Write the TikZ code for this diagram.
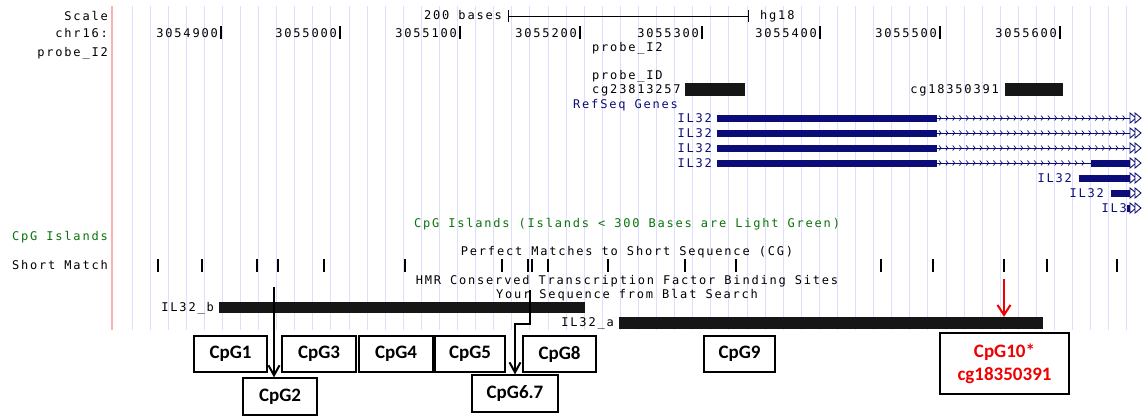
\documentclass[tikz,border=0pt]{standalone}
\usepackage{fontspec}
\usetikzlibrary{arrows.meta}
\newfontfamily\ucsc[LetterSpace=15]{DejaVu Sans Mono}
\newfontfamily\carlito{Carlito}
\newcommand\ucscfont{\ucsc\fontsize{12}{12}\selectfont}
\newcommand\boxfont{\carlito\bfseries\fontsize{19}{23}\selectfont}
\definecolor{guide}{RGB}{222,222,255}
\definecolor{guidered}{RGB}{255,175,175}
\definecolor{navy}{RGB}{12,12,120}
\definecolor{cpggreen}{RGB}{10,115,10}
\definecolor{barblack}{RGB}{22,22,22}
\definecolor{hot}{RGB}{240,0,0}
\tikzset{
  ucsc/.style={font=\ucscfont, inner sep=0pt, text height=8.5pt, text depth=0pt},
  guideline/.style={draw=guide, line width=1pt},
  matchtick/.style={draw=black, line width=#1},
  featbar/.style={fill=barblack, draw=none, inner sep=0pt},
  intron/.style={draw=navy, line width=0.9pt},
  chev/.style={draw=navy, line width=0.7pt},
  strandtip/.style={draw=navy, line width=0.9pt, fill=white},
  cpgbox/.style={draw=black, line width=1.2pt, fill=white, font=\boxfont,
    inner sep=0pt, align=center},
  pointer/.style={draw=black, line width=2pt, -{Straight Barb[length=10pt,width=11pt,line width=2pt]}},
  hotpointer/.style={draw=hot, line width=2pt, -{Straight Barb[length=10pt,width=13pt,line width=2pt]}},
}
\begin{document}
\begin{tikzpicture}[x=1pt,y=-1pt]
\useasboundingbox (0,0) rectangle (1144,416);
\fill[white] (0,0) rectangle (1144,416);

% guide lines of the browser window
\foreach \i in {0,...,55}
  \draw[guideline] ({132+18.09*\i},6) -- ({132+18.09*\i},330);
\draw[draw=guidered, line width=1.2pt] (112,6) -- (112,330);

% left-hand track labels
\node[ucsc, anchor=east] (lscale) at (108,16) {Scale};
\node[ucsc, anchor=east] (lchr) at (108,33) {chr16:};
\node[ucsc, anchor=east] (lprobe) at (108,52) {probe\_I2};
\node[ucsc, anchor=east, text=cpggreen] (lcpg) at (108,236) {CpG Islands};
\node[ucsc, anchor=east] (lshort) at (108,265) {Short Match};

% scale bar
\node[ucsc, anchor=east] (bases) at (502,15) {200 bases};
\coordinate (sb1) at (508,16);
\coordinate (sb2) at (748,16);
\draw[line width=1pt] (sb1) -- (sb2);
\draw[line width=1pt] ([yshift=-6pt]sb1) -- ([yshift=6pt]sb1);
\draw[line width=1pt] ([yshift=-6pt]sb2) -- ([yshift=6pt]sb2);
\node[ucsc, anchor=west] (hg) at (760,15) {hg18};

% chromosome positions
\foreach \pos/\xx in {3054900/221,3055000/340,3055100/460,3055200/580,
                      3055300/702,3055400/820,3055500/940,3055600/1060} {
  \node[ucsc, anchor=east] (p\pos) at (\xx-3,33) {\pos};
  \draw[line width=1.5pt] (\xx,26) -- (\xx,39);
}

% probe track
\node[ucsc, anchor=west] (tprobe) at (592,47) {probe\_I2};
\node[ucsc, anchor=west] (tpid) at (592,75) {probe\_ID};
\node[ucsc, anchor=west] (cga) at (592,89) {cg23813257};
\fill[barblack] (685,83) rectangle (745,96);
\node[ucsc, anchor=east] (cgb) at (999,89) {cg18350391};
\fill[barblack] (1005,83) rectangle (1063,96);

% RefSeq genes
\node[ucsc, anchor=west, text=navy] (refseq) at (573,104) {RefSeq Genes};
\foreach \yy in {118,133,148,163} {
  \node[ucsc, anchor=east, text=navy] at (712,\yy) {IL32};
  \fill[navy] (717,\yy-3.5) rectangle (937,\yy+3.5);
  \draw[intron] (937,\yy) -- (1130,\yy);
}
\foreach \yy in {118,133,148}
  \foreach \cx in {941,947.8,...,1127}
    \draw[chev] (\cx-2,\yy-2.5) -- (\cx,\yy) -- (\cx-2,\yy+2.5);
\foreach \cx in {941,947.8,...,1088}
  \draw[chev] (\cx-2,160.5) -- (\cx,163) -- (\cx-2,165.5);
\fill[navy] (1091,159.5) rectangle (1131,166.5);
\node[ucsc, anchor=east, text=navy] at (1072,178) {IL32};
\fill[navy] (1079,174.5) rectangle (1131,181.5);
\node[ucsc, anchor=east, text=navy] at (1104,193) {IL32};
\fill[navy] (1111,189.5) rectangle (1131,196.5);
\node[ucsc, anchor=east, text=navy] at (1127,208) {IL3};
\fill[navy] (1127,204.5) rectangle (1131,211.5);
\foreach \yy in {118,133,148,163,178,193,208} {
  \draw[strandtip] (1130,\yy-5) -- (1136,\yy) -- (1130,\yy+5) -- cycle;
  \draw[strandtip] (1135,\yy-5) -- (1141,\yy) -- (1135,\yy+5) -- cycle;
}

% track titles
\node[ucsc, text=cpggreen] (tcpg) at (627,223) {CpG Islands (Islands < 300 Bases are Light Green)};
\node[ucsc] (tpm) at (627,251) {Perfect Matches to Short Sequence (CG)};
\node[ucsc] (thmr) at (627,280) {HMR Conserved Transcription Factor Binding Sites};
\node[ucsc] (tblat) at (627,294) {Your Sequence from Blat Search};

% CG matches
\foreach \xx in {158,202,257,278,405,502,528,532,685,736,933,1004}
  \draw[matchtick=2pt] (\xx,259) -- (\xx,272);
\foreach \xx in {324,548,608,881,1047,1117}
  \draw[matchtick=1.2pt] (\xx,259) -- (\xx,272);

% Blat hits
\node[ucsc, anchor=east] (lb) at (214,307) {IL32\_b};
\node[featbar, minimum width=366pt, minimum height=11pt] (ilb) at (402,307.5) {};
\node[ucsc, anchor=east] (la) at (614,322) {IL32\_a};
\node[featbar, minimum width=424pt, minimum height=12pt] (ila) at (831,323) {};

% CpG site boxes
\node[cpgbox, minimum width=73pt, minimum height=36pt] (cpg1) at (230.5,354) {CpG1};
\node[cpgbox, minimum width=74pt, minimum height=36pt] (cpg3) at (319,354) {CpG3};
\node[cpgbox, minimum width=74pt, minimum height=36pt] (cpg4) at (396,354) {CpG4};
\node[cpgbox, minimum width=70pt, minimum height=36pt] (cpg5) at (470,354) {CpG5};
\node[cpgbox, minimum width=73pt, minimum height=36pt] (cpg8) at (559.5,354) {CpG8};
\node[cpgbox, minimum width=74pt, minimum height=37pt] (cpg2) at (280,396.5) {CpG2};
\node[cpgbox, minimum width=86pt, minimum height=37pt] (cpg67) at (515,393.5) {CpG6.7};
\node[cpgbox, minimum width=71pt, minimum height=36pt] (cpg9) at (739.5,354) {CpG9};
\node[cpgbox, minimum width=129pt, minimum height=61pt, text=hot] (cpg10) at (1004.5,363.5) {CpG10*\\cg18350391};

% pointers
\coordinate (a1) at (274,287);
\draw[pointer] (a1) -- (a1 |- cpg2.north);
\coordinate (a2) at (530,290);
\coordinate (a2b) at (530,324);
\coordinate (a2c) at (515,324);
\draw[pointer] (a2) -- (a2b) -- (a2c) -- (a2c |- cpg67.north);
\coordinate (r1) at (1004,279);
\draw[hotpointer] (r1) -- (r1 |- ila.north);
\end{tikzpicture}
\end{document}
